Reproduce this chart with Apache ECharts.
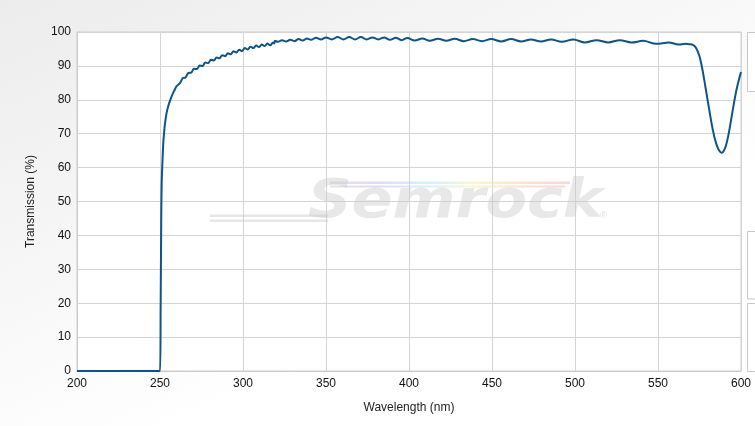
<!DOCTYPE html>
<html>
<head>
<meta charset="utf-8">
<script src="https://cdn.jsdelivr.net/npm/echarts@6/dist/echarts.min.js"></script>
<style>html,body{margin:0;padding:0;}#chart{width:755px;height:426px;}</style>
</head>
<body>
<div id="chart"></div>
<script>
const wavelength = [
  200, 250, 250.4, 250.7, 251.0, 251.5, 252.0, 252.5, 253, 254, 255, 256, 257, 258, 259, 260,
  262.0, 263.7, 265.4, 267.1, 268.8, 270.5, 272.2, 273.9, 275.6, 277.3, 279.0, 280.7, 282.4,
  284.1, 285.8, 287.5, 289.2, 290.9, 292.6, 294.3, 296.0, 297.7, 299.4, 301.1, 302.8, 304.5,
  306.2, 307.9, 309.6, 311.3, 313.0, 314.7, 316.4, 318.1, 318.8, 319.3,
  321, 323.5, 326, 328.5, 331, 333.5, 336, 338.5, 341, 344, 347, 350, 353.5, 357, 360.5, 364,
  367.5, 371, 374.5, 378, 381.5, 385, 388.5, 392, 395.5, 399, 403.5, 408, 412.5, 417.5, 422.5,
  427.5, 433, 438.5, 444, 449.5, 455.5, 461.5, 467.5, 473.5, 479.5, 485.5, 492, 499, 506, 513,
  520, 527, 534, 541, 549, 556.5, 562.5, 566.5, 569, 571, 572.5, 574, 575.5, 577, 578.5, 580,
  581.5, 583, 584.5, 586, 587.2, 588.3, 589.5, 591, 592.5, 594, 595.5, 597, 598.5, 600
];
const transmission = [
  0, 0, 20, 42, 55, 62, 67.5, 70.5, 73.0, 76.2, 78.2, 79.7, 81.0, 82.1, 83.1, 84.0,
  84.9, 86.4, 86.6, 87.9, 88.0, 89.15, 89.05, 90.1, 89.95, 91.0, 90.8, 91.85, 91.6,
  92.5, 92.25, 93.15, 92.85, 93.75, 93.4, 94.3, 93.95, 94.8, 94.4, 95.25, 94.85, 95.65,
  95.25, 96.0, 95.55, 96.3, 95.85, 96.6, 96.1, 96.9, 96.6, 97.4,
  97.1, 97.6, 97.2, 97.7, 97.3, 97.9, 97.5, 98.1, 97.7, 98.3, 97.8, 98.4, 97.8, 98.5, 97.8, 98.5,
  97.8, 98.5, 97.8, 98.4, 97.8, 98.4, 97.7, 98.3, 97.6, 98.2, 97.5, 98.1, 97.4, 98.0, 97.4,
  98.0, 97.3, 97.9, 97.3, 97.9, 97.2, 97.9, 97.2, 97.8, 97.2, 97.8, 97.1, 97.8, 96.9, 97.6,
  96.9, 97.6, 96.9, 97.4, 96.5, 96.9, 96.3, 96.5, 96.4, 96.2, 95.6, 94.2, 91.9, 88.3, 84.0, 79.6,
  75.2, 71.2, 68.0, 65.8, 64.8, 64.4, 64.8, 66.6, 69.8, 74.0, 78.3, 82.3, 85.5, 88.2
];
const xTicks = [200, 250, 300, 350, 400, 450, 500, 550, 600];
const yTicks = [0, 10, 20, 30, 40, 50, 60, 70, 80, 90, 100];

const points = wavelength.map((w, i) => [w, transmission[i]]);
const chart = echarts.init(document.getElementById('chart'), null, {renderer: 'canvas'});
const font = 'Arial, "Liberation Sans", sans-serif';
const rainbow = {type: 'linear', x: 0, y: 0, x2: 1, y2: 0, colorStops: [
  {offset: 0, color: 'rgba(200,200,200,0.5)'}, {offset: 0.2, color: 'rgba(190,170,240,0.45)'},
  {offset: 0.4, color: 'rgba(160,220,250,0.45)'}, {offset: 0.6, color: 'rgba(240,240,160,0.5)'},
  {offset: 0.8, color: 'rgba(250,200,160,0.5)'}, {offset: 1, color: 'rgba(250,170,170,0.5)'}]};
chart.setOption({
  animation: false,
  backgroundColor: {
    type: 'linear', x: 0, y: 0, x2: 0.25, y2: 1,
    colorStops: [{offset: 0, color: '#ececec'}, {offset: 1, color: '#ffffff'}]
  },
  grid: {
    left: 77, right: 14, top: 32, bottom: 55,
    show: true, backgroundColor: '#ffffff', borderColor: '#cccccc', borderWidth: 1
  },
  xAxis: {
    type: 'value', min: xTicks[0], max: xTicks[xTicks.length - 1], interval: 50,
    name: 'Wavelength (nm)', nameLocation: 'middle', nameGap: 31,
    nameTextStyle: {fontFamily: font, fontSize: 12, color: '#222'},
    axisLine: {show: true, lineStyle: {color: '#cccccc'}},
    axisTick: {show: false},
    axisLabel: {fontFamily: font, fontSize: 12, color: '#111', margin: 7},
    splitLine: {show: true, lineStyle: {color: '#d4d4d4', width: 1}}
  },
  yAxis: {
    type: 'value', min: yTicks[0], max: yTicks[yTicks.length - 1], interval: 10,
    name: 'Transmission (%)', nameLocation: 'middle', nameGap: 40,
    nameTextStyle: {fontFamily: font, fontSize: 12, color: '#222'},
    axisLine: {show: true, lineStyle: {color: '#cccccc'}},
    axisTick: {show: false},
    axisLabel: {fontFamily: font, fontSize: 12, color: '#111', margin: 6},
    splitLine: {show: true, lineStyle: {color: '#d4d4d4', width: 1}}
  },
  graphic: [
    {type: 'rect', z: 1, shape: {x: 210, y: 214.5, width: 118, height: 2.5}, style: {fill: 'rgba(200,200,200,0.45)'}},
    {type: 'rect', z: 1, shape: {x: 210, y: 219.5, width: 118, height: 2.5}, style: {fill: 'rgba(200,200,200,0.45)'}},
    {type: 'rect', z: 1, shape: {x: 330, y: 181.5, width: 240, height: 2.5}, style: {fill: rainbow}},
    {type: 'rect', z: 1, shape: {x: 330, y: 185.5, width: 235, height: 2}, style: {fill: rainbow}},
    {type: 'text', z: 1, x: 308, y: 176, scaleX: 1.12,
      style: {text: 'Semrock', font: 'italic bold 54px "DejaVu Sans", sans-serif', fill: 'rgba(200,200,200,0.42)'}},
    {type: 'text', z: 1, x: 600, y: 211,
      style: {text: '®', font: '9px Arial, sans-serif', fill: 'rgba(200,200,200,0.6)'}},
    {type: 'rect', z: 1, shape: {x: 747.5, y: 32.5, width: 20, height: 59}, style: {fill: '#ffffff', stroke: '#c8c8c8', lineWidth: 1}},
    {type: 'rect', z: 1, shape: {x: 747.5, y: 231.5, width: 20, height: 67.5}, style: {fill: '#ffffff', stroke: '#c8c8c8', lineWidth: 1}},
    {type: 'rect', z: 1, shape: {x: 747.5, y: 303.5, width: 20, height: 68}, style: {fill: '#ffffff', stroke: '#c8c8c8', lineWidth: 1}}
  ],
  series: [{
    type: 'line',
    data: points,
    showSymbol: false,
    smooth: 0.35,
    z: 3,
    lineStyle: {color: '#0c5489', width: 2}
  }]
});
</script>
</body>
</html>
